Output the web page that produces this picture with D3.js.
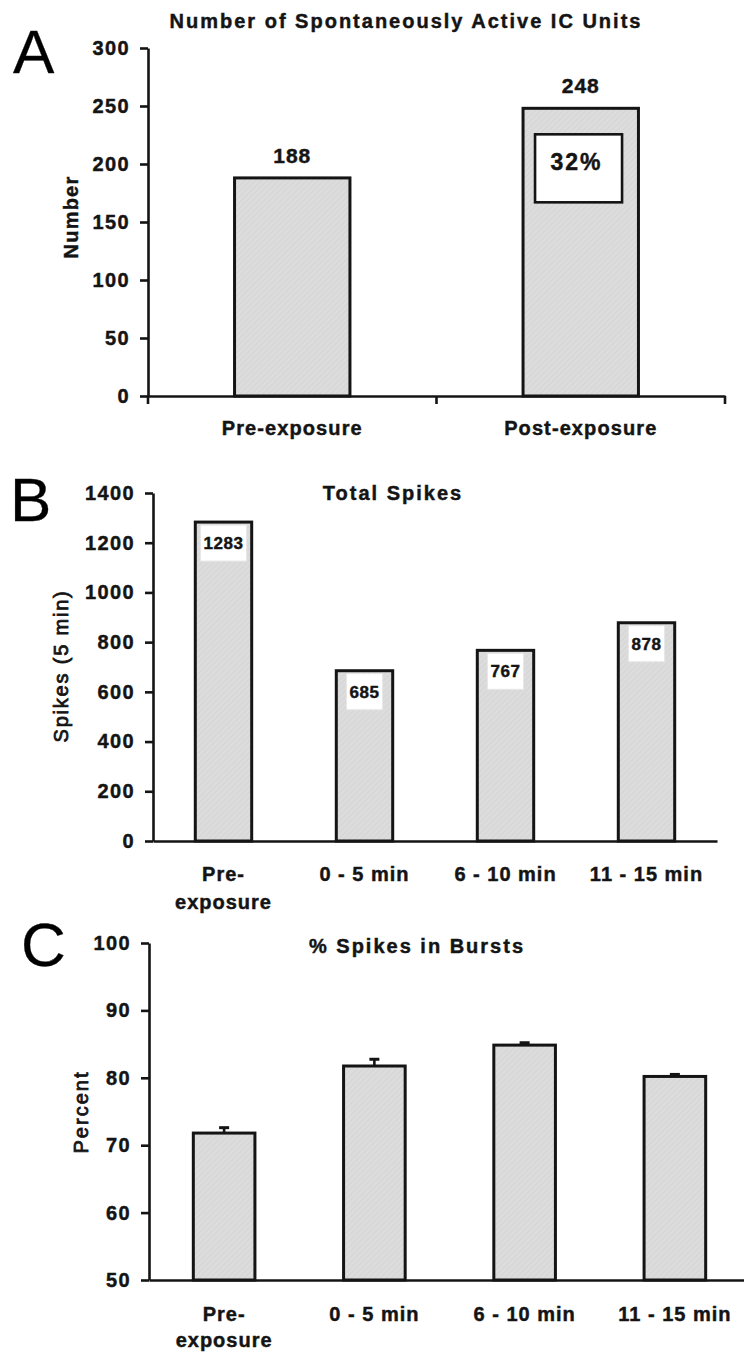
<!DOCTYPE html>
<html>
<head>
<meta charset="utf-8">
<script src="https://cdn.jsdelivr.net/npm/d3@7"></script>
<style>
  body { margin: 0; background: #fff; }
  svg { display: block; font-family: "Liberation Sans", Arial, Helvetica, sans-serif; }
  /* the printed figure has heavy type, thicken it a little */
  svg text { stroke: #141414; stroke-width: 0.45px; }
</style>
</head>
<body>
<div id="chart"></div>
<script>
/* DATA */
const unitCats = ["Pre-exposure", "Post-exposure"];
const unitCounts = [188, 248];
const unitTicks = [0, 50, 100, 150, 200, 250, 300];
const unitIncrease = "32%";

const timeCats = ["Pre-\nexposure", "0 - 5 min", "6 - 10 min", "11 - 15 min"];
const spikeTotals = [1283, 685, 767, 878];
const spikeTicks = [0, 200, 400, 600, 800, 1000, 1200, 1400];

const burstPercent = [71.8, 81.75, 84.85, 80.2];
const burstErr = [0.8, 1.0, 0.35, 0.3];
const burstTicks = [50, 60, 70, 80, 90, 100];

/* CONSTANTS */
const width = 744, height = 1353;
const ink = "#141414";

const svg = d3.select("#chart").append("svg")
  .attr("width", width)
  .attr("height", height);

// light grey fill with faint diagonal hatching
const pat = svg.append("defs").append("pattern")
  .attr("id", "hatch")
  .attr("patternUnits", "userSpaceOnUse")
  .attr("width", 4).attr("height", 4)
  .attr("patternTransform", "rotate(45)");
pat.append("rect").attr("width", 4).attr("height", 4).attr("fill", "#dcdcdc");
pat.append("line").attr("x1", 0).attr("y1", 0).attr("x2", 0).attr("y2", 4)
  .attr("stroke", "#cfcfcf").attr("stroke-width", 1);

function panel(cfg) {
  const g = svg.append("g");
  const x = d3.scaleBand()
    .domain(cfg.cats)
    .range([cfg.x0, cfg.x1])
    .paddingInner(cfg.pad)
    .paddingOuter(cfg.pad / 2);
  const y = d3.scaleLinear()
    .domain(cfg.yDomain)
    .range([cfg.y0, cfg.y1]);
  const base = cfg.yDomain[0];

  // bars
  g.selectAll("rect.bar")
    .data(cfg.values)
    .join("rect")
    .attr("class", "bar")
    .attr("x", (d, i) => x(cfg.cats[i]))
    .attr("y", d => y(d))
    .attr("width", x.bandwidth())
    .attr("height", d => y(base) - y(d))
    .attr("fill", "url(#hatch)")
    .attr("stroke", ink)
    .attr("stroke-width", 3);

  // y axis
  const ya = g.append("g")
    .attr("transform", `translate(${cfg.x0},0)`)
    .call(d3.axisLeft(y).tickValues(cfg.ticks).tickFormat(d3.format("d"))
      .tickSize(8).tickSizeOuter(0).tickPadding(10));
  ya.select(".domain").attr("stroke", ink).attr("stroke-width", 2.6);
  ya.selectAll(".tick line").attr("stroke", ink).attr("stroke-width", 2.6);
  ya.selectAll(".tick text")
    .attr("fill", ink)
    .style("font-size", "20px")
    .style("font-weight", "bold")
    .style("letter-spacing", "1.4px");

  // x axis
  const xa = g.append("g")
    .attr("transform", `translate(0,${cfg.y0})`)
    .call(d3.axisBottom(x).tickSize(0).tickSizeOuter(0));
  xa.select(".domain").attr("stroke", ink).attr("stroke-width", 2.6);
  xa.selectAll(".tick text").remove();
  xa.selectAll(".tick").append("text")
    .attr("fill", ink)
    .attr("text-anchor", "middle")
    .style("font-size", "20px")
    .style("font-weight", "bold")
    .style("letter-spacing", cfg.labelSpacing)
    .selectAll("tspan")
    .data(d => d.split("\n"))
    .join("tspan")
    .attr("x", 0)
    .attr("y", (d, i) => cfg.labelY + i * cfg.lineGap)
    .text(d => d);

  if (cfg.boundaryTicks) {
    const half = x.step() * cfg.pad / 2;
    const bounds = cfg.cats.map(c => x(c) - half).concat([cfg.x1]);
    xa.selectAll("line.bound")
      .data(bounds)
      .join("line")
      .attr("class", "bound")
      .attr("x1", d => d).attr("x2", d => d)
      .attr("y1", 0).attr("y2", 8)
      .attr("stroke", ink).attr("stroke-width", 2.6);
  }

  // title
  g.append("text")
    .attr("x", cfg.titleX).attr("y", cfg.titleY)
    .attr("text-anchor", "middle")
    .attr("fill", ink)
    .style("font-size", "20px")
    .style("font-weight", "bold")
    .style("letter-spacing", "2px")
    .text(cfg.title);

  // y label
  g.append("text")
    .attr("transform", `translate(${cfg.yLabelX},${cfg.yLabelY}) rotate(-90)`)
    .attr("text-anchor", "middle")
    .attr("fill", ink)
    .style("stroke-width", cfg.yLabelWeight === "normal" ? "0.8px" : "0.45px")
    .style("font-size", "20px")
    .style("font-weight", cfg.yLabelWeight)
    .style("letter-spacing", cfg.yLabelSpacing)
    .text(cfg.yLabel);

  // panel letter
  g.append("text")
    .attr("x", cfg.letterX).attr("y", cfg.letterY)
    .attr("fill", "#000")
    .style("font-size", "62px")
    .style("stroke-width", "0.3px")
    .text(cfg.letter);

  return { g, x, y };
}

/* PANEL A */
const A = panel({
  cats: unitCats, values: unitCounts, yDomain: [0, 300], ticks: unitTicks,
  x0: 148, x1: 725, y0: 396, y1: 48, pad: 0.6,
  labelY: 39, lineGap: 26, labelSpacing: "1.1px", boundaryTicks: true,
  title: "Number of Spontaneously Active IC Units", titleX: 406, titleY: 28,
  yLabel: "Number", yLabelX: 78, yLabelY: 217, yLabelWeight: "bold", yLabelSpacing: "1.2px",
  letter: "A", letterX: 13, letterY: 73
});

A.g.selectAll("text.val")
  .data(unitCounts)
  .join("text")
  .attr("class", "val")
  .attr("x", (d, i) => A.x(unitCats[i]) + A.x.bandwidth() / 2)
  .attr("y", d => A.y(d) - 15)
  .attr("text-anchor", "middle")
  .attr("fill", ink)
  .style("font-size", "21px")
  .style("font-weight", "bold")
  .style("letter-spacing", "1px")
  .text(d => d);

// percent increase box inside the post-exposure bar
const postX = A.x(unitCats[1]);
const postTop = A.y(unitCounts[1]);
A.g.append("rect")
  .attr("x", postX + 12).attr("y", postTop + 26)
  .attr("width", 87).attr("height", 68)
  .attr("fill", "#fff").attr("stroke", ink).attr("stroke-width", 2.6);
A.g.append("text")
  .attr("x", postX + 12 + 87 / 2 - 2).attr("y", postTop + 62)
  .attr("text-anchor", "middle")
  .attr("fill", ink)
  .style("font-size", "23px")
  .style("font-weight", "bold")
  .style("letter-spacing", "2px")
  .text(unitIncrease);

/* PANEL B */
const B = panel({
  cats: timeCats, values: spikeTotals, yDomain: [0, 1400], ticks: spikeTicks,
  x0: 153, x1: 717, y0: 841, y1: 493, pad: 0.6,
  labelY: 40, lineGap: 28, labelSpacing: "1px", boundaryTicks: false,
  title: "Total Spikes", titleX: 393, titleY: 500,
  yLabel: "Spikes (5 min)", yLabelX: 68, yLabelY: 666, yLabelWeight: "normal", yLabelSpacing: "1.8px",
  letter: "B", letterX: 10, letterY: 521
});

const vb = B.g.selectAll("g.vbox")
  .data(spikeTotals)
  .join("g")
  .attr("class", "vbox")
  .attr("transform", (d, i) => `translate(${B.x(timeCats[i]) + B.x.bandwidth() / 2},${B.y(d)})`);
vb.append("rect")
  .attr("fill", "#fff")
  .attr("stroke", "#e6e6e6")
  .attr("stroke-width", 1);
const vbText = vb.append("text")
  .attr("y", 27)
  .attr("text-anchor", "middle")
  .attr("fill", ink)
  .style("font-size", "17px")
  .style("font-weight", "bold")
  .style("letter-spacing", "0.6px")
  .text(d => d);
vbText.each(function () {
  const w = this.getComputedTextLength() + 6;
  d3.select(this.parentNode).select("rect")
    .attr("x", -w / 2).attr("y", 3).attr("width", w).attr("height", 36);
});

/* PANEL C */
const C = panel({
  cats: timeCats, values: burstPercent, yDomain: [50, 100], ticks: burstTicks,
  x0: 149, x1: 750, y0: 1280, y1: 943, pad: 0.59,
  labelY: 41, lineGap: 26, labelSpacing: "1px", boundaryTicks: false,
  title: "% Spikes in Bursts", titleX: 417, titleY: 953,
  yLabel: "Percent", yLabelX: 88, yLabelY: 1112, yLabelWeight: "normal", yLabelSpacing: "2px",
  letter: "C", letterX: 21, letterY: 966
});

// upward error bars with caps
const eb = C.g.selectAll("g.err")
  .data(burstPercent)
  .join("g")
  .attr("class", "err")
  .attr("transform", (d, i) => `translate(${C.x(timeCats[i]) + C.x.bandwidth() / 2},0)`);
eb.append("line")
  .attr("x1", 0).attr("x2", 0)
  .attr("y1", d => C.y(d))
  .attr("y2", (d, i) => C.y(d + burstErr[i]))
  .attr("stroke", ink).attr("stroke-width", 2.6);
eb.append("line")
  .attr("x1", -5).attr("x2", 5)
  .attr("y1", (d, i) => C.y(d + burstErr[i]))
  .attr("y2", (d, i) => C.y(d + burstErr[i]))
  .attr("stroke", ink).attr("stroke-width", 3);
</script>
</body>
</html>
